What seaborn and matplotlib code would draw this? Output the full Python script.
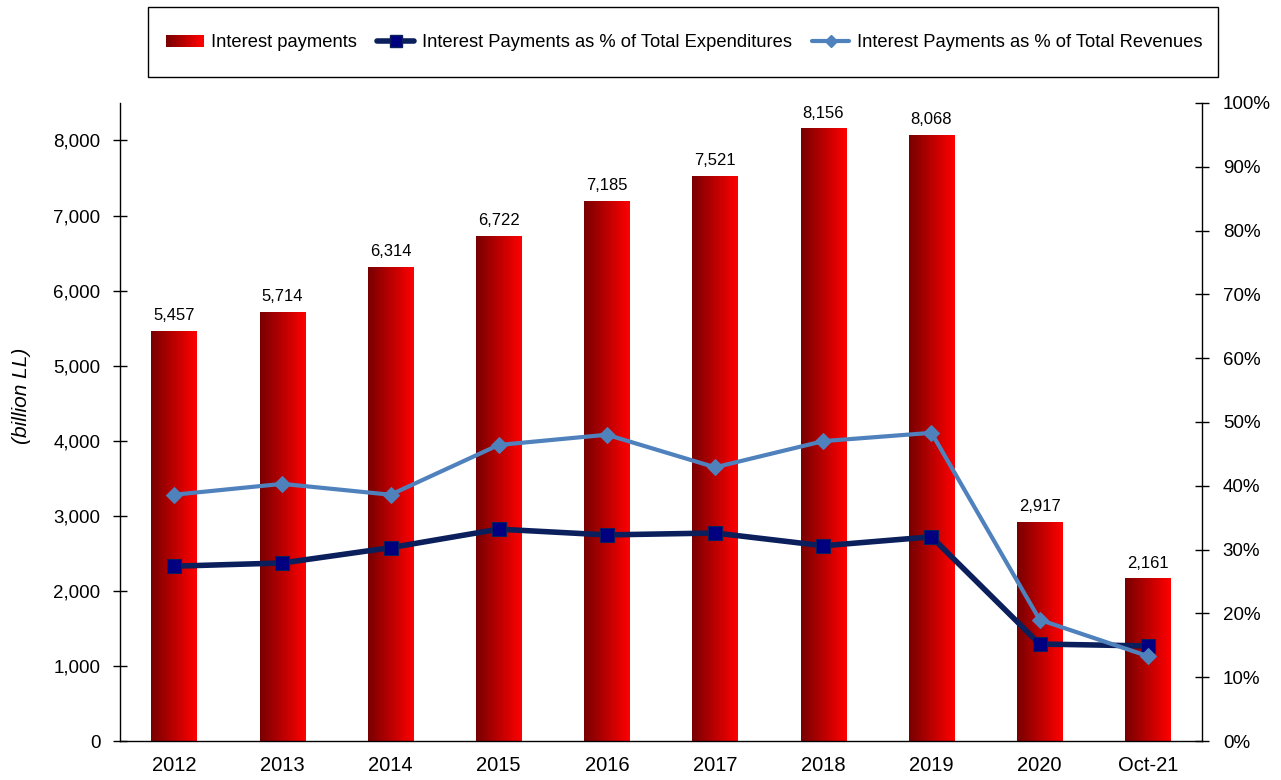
import numpy as np
import pandas as pd
import matplotlib
matplotlib.use("Agg")
import matplotlib.pyplot as plt
import seaborn as sns
from matplotlib.colors import LinearSegmentedColormap
from matplotlib.legend_handler import HandlerBase
from matplotlib.patches import Rectangle, Patch
from matplotlib.lines import Line2D
from matplotlib.ticker import FuncFormatter, FixedLocator

# data
years = ["2012", "2013", "2014", "2015", "2016", "2017", "2018", "2019", "2020", "Oct-21"]
interest = [5457, 5714, 6314, 6722, 7185, 7521, 8156, 8068, 2917, 2161]
pct_expenditures = [27.4, 27.9, 30.3, 33.2, 32.3, 32.6, 30.6, 32.0, 15.2, 14.9]
pct_revenues = [38.6, 40.3, 38.6, 46.4, 48.0, 42.9, 47.0, 48.3, 19.0, 13.3]

df = pd.DataFrame({"year": years, "interest": interest,
                   "exp": pct_expenditures, "rev": pct_revenues})
df["pos"] = np.arange(len(df))

sns.set_theme(style="white")
plt.rcParams["font.family"] = ["Liberation Sans", "DejaVu Sans"]
plt.rcParams.update({
    "text.color": "black",
    "axes.labelcolor": "black",
    "xtick.color": "black",
    "ytick.color": "black",
})

red_cmap = LinearSegmentedColormap.from_list("bar_grad", ["#780000", "#ff0000"])
EXP_COLOR = "#0a1f5c"
REV_COLOR = "#4f81bd"

fig = plt.figure(figsize=(12.81, 7.8), dpi=100)
ax = fig.add_axes([0.0937, 0.05, 0.8446, 0.818])

sns.barplot(data=df, x="pos", y="interest", ax=ax, width=0.42,
            color="red", order=list(df["pos"]))

# replace flat bars with a left-to-right gradient
grad = np.linspace(0, 1, 256).reshape(1, -1)
for p in ax.patches:
    x0, y0 = p.get_x(), p.get_y()
    w, h = p.get_width(), p.get_height()
    ax.imshow(grad, extent=[x0, x0 + w, y0, y0 + h], aspect="auto",
              cmap=red_cmap, zorder=2, interpolation="bicubic")
    p.set_visible(False)
    ax.text(x0 + w / 2, y0 + h + 110, f"{int(round(h)):,}", ha="center",
            va="bottom", fontsize=12, color="black", zorder=5)

ax.set_xlim(-0.5, len(years) - 0.5)
ax.set_ylim(0, 8500)
ax.set_yticks(range(0, 8001, 1000))
ax.yaxis.set_major_formatter(FuncFormatter(lambda v, _: f"{int(v):,}"))
ax.set_xticks(df["pos"])
ax.set_xticklabels(years, fontsize=14.5)
ax.xaxis.set_minor_locator(FixedLocator(np.arange(-0.5, len(years), 1.0)))
ax.tick_params(axis="x", which="major", length=0, pad=11)
ax.tick_params(axis="x", which="minor", direction="inout", length=10, width=1, color="black")
ax.tick_params(axis="y", direction="inout", length=10, width=1, color="black",
               labelsize=13.5, left=True, pad=9)
ax.set_xlabel("")
ax.set_ylabel("(billion LL)", fontsize=15, style="italic")
ax.yaxis.set_label_coords(-0.082, 0.541)
for s in ["left", "bottom"]:
    ax.spines[s].set_color("black")
    ax.spines[s].set_linewidth(1)
ax.spines["top"].set_visible(False)
ax.spines["right"].set_visible(False)

ax2 = ax.twinx()
sns.lineplot(data=df, x="pos", y="exp", ax=ax2, color=EXP_COLOR, linewidth=4,
             marker="s", markersize=10, markerfacecolor="#000080",
             markeredgecolor="#0a1f5c", zorder=4)
sns.lineplot(data=df, x="pos", y="rev", ax=ax2, color=REV_COLOR, linewidth=3,
             marker="D", markersize=8, markerfacecolor=REV_COLOR,
             markeredgecolor=REV_COLOR, zorder=4)
ax2.set_ylim(0, 100)
ax2.set_yticks(range(0, 101, 10))
ax2.yaxis.set_major_formatter(FuncFormatter(lambda v, _: f"{int(v)}%"))
ax2.tick_params(axis="y", direction="inout", length=10, width=1, color="black",
                labelsize=13.5, right=True, pad=10)
ax2.set_ylabel("")
ax2.set_xlabel("")
ax2.spines["right"].set_color("black")
ax2.spines["right"].set_linewidth(1)
for s in ["top", "left", "bottom"]:
    ax2.spines[s].set_visible(False)
ax2.set_xlim(-0.5, len(years) - 0.5)


class GradientHandler(HandlerBase):
    def create_artists(self, legend, orig_handle, xdescent, ydescent,
                       width, height, fontsize, trans):
        n = 30
        arts = []
        for i in range(n):
            r = Rectangle((-xdescent + width * i / n, -ydescent), width / n + 0.3, height,
                          facecolor=red_cmap(i / (n - 1)), edgecolor="none", transform=trans)
            arts.append(r)
        return arts


handles = [Patch(label="Interest payments"),
           Line2D([], [], color=EXP_COLOR, linewidth=4, marker="s", markersize=8,
                  markerfacecolor="#000080"),
           Line2D([], [], color=REV_COLOR, linewidth=3, marker="D", markersize=6)]
labels = ["Interest payments", "Interest Payments as % of Total Expenditures",
          "Interest Payments as % of Total Revenues"]
fig.legend(handles, labels, loc="center", ncol=3, bbox_to_anchor=(0.534, 0.945),
           handler_map={Patch: GradientHandler()}, fontsize=13.2, frameon=False,
           handlelength=2.05, handletextpad=0.4, columnspacing=1.1,
           borderaxespad=0, borderpad=0)

# legend box
fig.patches.append(Rectangle((0.1155, 0.9013), 0.8353, 0.0897, transform=fig.transFigure,
                             facecolor="none", edgecolor="black", linewidth=1))

fig.savefig("out.png", dpi=100)
